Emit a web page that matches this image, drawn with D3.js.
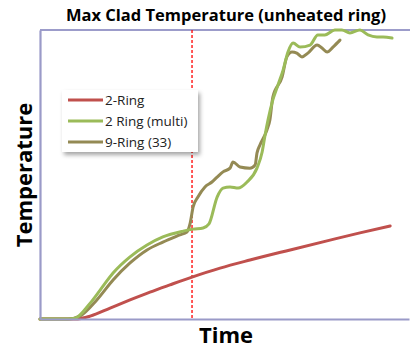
<!DOCTYPE html>
<html lang="en">
  <head>
    <meta charset="utf-8" />
    <title>Max Clad Temperature</title>
    <script src="https://d3js.org/d3.v7.min.js"></script>
    <style>
      body { margin: 0; background: #fff; }
      svg { display: block; font-family: "Open Sans", "Noto Sans", sans-serif; }
    </style>
  </head>
  <body>
    <script>
      // time (0-100) and temperature (0-100)
      var ring2Time = [0, 9.5, 13.6, 19, 24.4, 29.8, 35.2, 41.2, 48.8, 56.9, 67.8, 78.6, 86.7, 94.9];
      var ring2Temp = [0, 0, 1, 3.8, 6.6, 9.3, 11.8, 14.5, 17.6, 20.4, 23.9, 27.3, 29.8, 32.2];

      var multiTime = [0, 6.8, 9.5, 13.6, 16.3, 19.8, 24.4, 29, 33.3, 38.8, 41.5, 44.2, 45.8, 48, 49.6, 51.5, 53.7, 56.1, 58.8, 60.2, 61, 61.8, 63.1, 64.5, 65.9, 67.2, 68.6, 70.5, 73.2, 75.3, 77.2, 79.9, 81.8, 84, 86.7, 88.9, 91.3, 93, 95.4];
      var multiTemp = [0, 0, 0.3, 5.5, 10, 15.9, 21.5, 25.6, 28.4, 30.4, 31.1, 31.5, 32.9, 42.2, 45.3, 45.7, 45.3, 47.4, 52.2, 57.8, 63.7, 68.9, 75.8, 81, 86.2, 92.4, 95.5, 94.1, 94.8, 98.3, 98.3, 100, 100, 99, 100, 98.3, 97.6, 97.6, 97.2];

      var ring9Time = [0, 7.6, 10.8, 15.4, 19.8, 24.4, 29, 33.3, 37.9, 39.8, 40.7, 41.5, 42.8, 44.7, 46.6, 48, 49.6, 51.5, 52.3, 54.2, 56.9, 58.3, 58.8, 59.6, 61.5, 62.3, 63.1, 65.6, 66.9, 68.3, 69.6, 71, 72.6, 75.1, 76.4, 77.8, 79.4, 81.3];
      var ring9Temp = [0, 0, 1, 6.6, 13.5, 19.4, 23.9, 26.6, 29.1, 30.1, 33.2, 38.8, 42.2, 45.7, 47.4, 49.1, 50.9, 52.2, 54.3, 52.6, 52.2, 53.3, 57.4, 60.2, 65.4, 68.9, 76.8, 83.7, 90.7, 92.4, 92, 90.7, 92, 94.8, 93.8, 92.4, 94.1, 96.5];

      var markerTime = 41.2;

      var seriesNames = ["2-Ring", "2 Ring (multi)", "9-Ring (33)"];
      var seriesColors = ["#c0504d", "#9bbb59", "#948a54"];

      var width = 410, height = 348;
      var margin = { top: 30, right: 1, bottom: 29, left: 40 };

      var svg = d3.select("body").append("svg")
        .attr("width", width)
        .attr("height", height);

      var x = d3.scaleLinear().domain([0, 100]).range([margin.left, width - margin.right]);
      var y = d3.scaleLinear().domain([0, 100]).range([height - margin.bottom, margin.top]);

      // top frame line
      svg.append("line")
        .attr("x1", x(0)).attr("x2", width)
        .attr("y1", y(100)).attr("y2", y(100))
        .style("stroke", "#3a3a96").style("stroke-width", 1.2);

      // red dashed marker
      svg.append("line")
        .attr("x1", x(markerTime)).attr("x2", x(markerTime))
        .attr("y1", y(100)).attr("y2", y(0))
        .style("stroke", "#ff0000").style("stroke-width", 1.3)
        .style("stroke-dasharray", "3,2");

      var line = d3.line()
        .x(function (d) { return x(d[0]); })
        .y(function (d) { return y(d[1]); })
        .curve(d3.curveMonotoneX);

      var series = [
        d3.zip(ring2Time, ring2Temp),
        d3.zip(multiTime, multiTemp),
        d3.zip(ring9Time, ring9Temp)
      ];

      // draw 2-Ring, then 9-Ring, then multi on top like the picture
      [0, 2, 1].forEach(function (i) {
        svg.append("path")
          .datum(series[i])
          .attr("d", line)
          .style("fill", "none")
          .style("stroke", seriesColors[i])
          .style("stroke-width", 3)
          .style("stroke-linejoin", "round")
          .style("stroke-linecap", "round");
      });

      // axes (no ticks)
      svg.append("g")
        .attr("transform", "translate(0," + y(0) + ")")
        .call(d3.axisBottom(x).tickSize(0).tickValues([]))
        .call(function (g) { g.select(".domain").style("stroke", "#9a9ac8").style("stroke-width", 2.2); });

      svg.append("g")
        .attr("transform", "translate(" + x(0) + ",0)")
        .call(d3.axisLeft(y).tickSize(0).tickValues([]))
        .call(function (g) { g.select(".domain").style("stroke", "#9a9ac8").style("stroke-width", 2.2); });

      // titles
      svg.append("text")
        .attr("x", 226).attr("y", 21)
        .attr("text-anchor", "middle")
        .style("font-size", "16.5px").style("font-weight", "bold")
        .text("Max Clad Temperature (unheated ring)");

      svg.append("text")
        .attr("x", 226).attr("y", 343)
        .attr("text-anchor", "middle")
        .style("font-size", "22px").style("font-weight", "bold")
        .text("Time");

      svg.append("text")
        .attr("transform", "translate(32,175) rotate(-90)")
        .attr("text-anchor", "middle")
        .style("font-size", "22px").style("font-weight", "bold")
        .text("Temperature");

      // legend
      var defs = svg.append("defs");
      var filter = defs.append("filter").attr("id", "shadow")
        .attr("x", "-10%").attr("y", "-10%").attr("width", "130%").attr("height", "140%");
      filter.append("feDropShadow")
        .attr("dx", 2).attr("dy", 3).attr("stdDeviation", 2)
        .attr("flood-color", "#000").attr("flood-opacity", 0.35);

      var lg = svg.append("g").attr("transform", "translate(62,90)");
      lg.append("rect")
        .attr("width", 136).attr("height", 62)
        .style("fill", "#fff")
        .attr("filter", "url(#shadow)");

      seriesNames.forEach(function (name, i) {
        var row = lg.append("g").attr("transform", "translate(0," + (10 + i * 21) + ")");
        row.append("line")
          .attr("x1", 6).attr("x2", 41)
          .style("stroke", seriesColors[i]).style("stroke-width", 3);
        row.append("text")
          .attr("x", 43).attr("y", 5)
          .style("font-size", "13.5px").style("fill", "#222")
          .text(name);
      });
    </script>
  </body>
</html>
